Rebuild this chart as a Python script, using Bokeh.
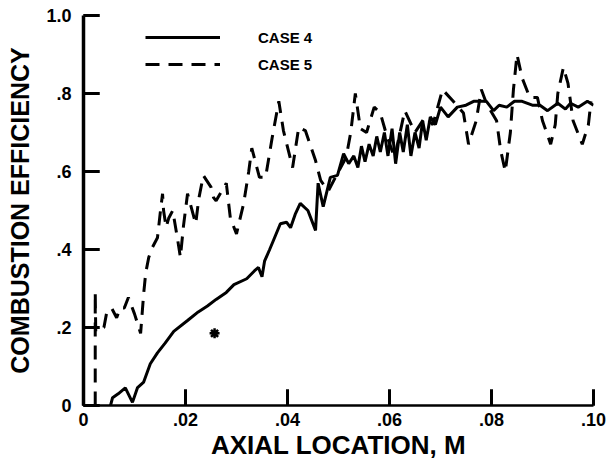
from bokeh.plotting import figure
from bokeh.models import Range1d, FixedTicker, Legend, LegendItem
from bokeh.embed import file_html
from bokeh.resources import INLINE

# ---- data ----
x_ticks = [0.0, 0.02, 0.04, 0.06, 0.08, 0.10]
x_tick_labels = ["0", ".02", ".04", ".06", ".08", ".10"]
y_ticks = [0.0, 0.2, 0.4, 0.6, 0.8, 1.0]
y_tick_labels = ["0", ".2", ".4", ".6", ".8", "1.0"]

series_names = ["CASE 4", "CASE 5"]

case4_x = [0.0027, 0.0047, 0.0057, 0.0068, 0.0082, 0.0096, 0.0106, 0.0118, 0.0131, 0.0145,
           0.0160, 0.0177, 0.0204, 0.0225, 0.0243, 0.0260, 0.0280, 0.0295, 0.0320, 0.0335,
           0.0343, 0.0350, 0.0355, 0.0365, 0.0373, 0.0386, 0.0398, 0.0406, 0.0415, 0.0425,
           0.0440, 0.0455, 0.0460, 0.0470, 0.0484, 0.0498, 0.0510, 0.0520, 0.0530, 0.0538,
           0.0545, 0.0552, 0.0560, 0.0568, 0.0575, 0.0582, 0.0590, 0.0597, 0.0605, 0.0612,
           0.0620, 0.0627, 0.0635, 0.0642, 0.0650, 0.0658, 0.0665, 0.0672, 0.0680, 0.0690,
           0.0700, 0.0715, 0.0733, 0.0750, 0.0765, 0.0780, 0.0790, 0.0804, 0.0815, 0.0830,
           0.0845, 0.0860, 0.0880, 0.0895, 0.0910, 0.0930, 0.0945, 0.0955, 0.0970, 0.0988,
           0.1000]
case4_y = [0.000, -0.030, 0.020, 0.030, 0.045, 0.008, 0.046, 0.060, 0.107, 0.135,
           0.160, 0.190, 0.218, 0.240, 0.255, 0.272, 0.290, 0.310, 0.325, 0.345,
           0.354, 0.330, 0.370, 0.400, 0.425, 0.466, 0.470, 0.456, 0.490, 0.518,
           0.500, 0.449, 0.570, 0.510, 0.585, 0.590, 0.646, 0.620, 0.640, 0.610,
           0.665, 0.625, 0.670, 0.640, 0.690, 0.650, 0.700, 0.640, 0.710, 0.620,
           0.700, 0.650, 0.720, 0.640, 0.700, 0.660, 0.730, 0.680, 0.740, 0.720,
           0.765, 0.740, 0.765, 0.770, 0.780, 0.780, 0.780, 0.756, 0.770, 0.765,
           0.780, 0.780, 0.770, 0.770, 0.756, 0.775, 0.760, 0.775, 0.765, 0.780,
           0.770]

case5_x = [0.0023, 0.0023, 0.0024, 0.0040, 0.0045, 0.0055, 0.0065, 0.0072, 0.0080, 0.0088,
           0.0100, 0.0112, 0.0118, 0.0122, 0.0128, 0.0135, 0.0145, 0.0151, 0.0155, 0.0157,
           0.0162, 0.0167, 0.0175, 0.0184, 0.0190, 0.0196, 0.0204, 0.0220, 0.0226, 0.0235,
           0.0250, 0.0255, 0.0260, 0.0280, 0.0288, 0.0300, 0.0314, 0.0324, 0.0330, 0.0345,
           0.0357, 0.0370, 0.0383, 0.0392, 0.0410, 0.0422, 0.0435, 0.0455, 0.0465, 0.0480,
           0.0500, 0.0515, 0.0524, 0.0533, 0.0543, 0.0555, 0.0570, 0.0582, 0.0595, 0.0610,
           0.0630, 0.0650, 0.0670, 0.0685, 0.0704, 0.0725, 0.0745, 0.0755, 0.0770, 0.0780,
           0.0790, 0.0810, 0.0818, 0.0827, 0.0837, 0.0843, 0.0850, 0.0860, 0.0875, 0.0890,
           0.0900, 0.0916, 0.0925, 0.0930, 0.0941, 0.0950, 0.0960, 0.0978, 0.0990, 0.0995]
case5_y = [0.000, 0.290, 0.190, 0.200, 0.235, 0.250, 0.225, 0.250, 0.250, 0.277,
           0.235, 0.185, 0.287, 0.340, 0.380, 0.405, 0.430, 0.500, 0.543, 0.500,
           0.457, 0.480, 0.500, 0.430, 0.380, 0.460, 0.543, 0.466, 0.530, 0.590,
           0.560, 0.533, 0.525, 0.570, 0.480, 0.440, 0.518, 0.600, 0.660, 0.585,
           0.585, 0.687, 0.780, 0.705, 0.610, 0.713, 0.705, 0.628, 0.577, 0.550,
           0.600, 0.636, 0.700, 0.800, 0.710, 0.700, 0.765, 0.750, 0.690, 0.636,
           0.756, 0.700, 0.740, 0.720, 0.810, 0.780, 0.750, 0.670, 0.730, 0.810,
           0.775, 0.730, 0.654, 0.600, 0.700, 0.810, 0.900, 0.840, 0.790, 0.790,
           0.730, 0.670, 0.720, 0.800, 0.867, 0.826, 0.730, 0.670, 0.720, 0.780]

star_x = [0.0257]
star_y = [0.185]

FONT = "Liberation Sans"
FRAME_W, FRAME_H = 510, 390
TICK_PX = 16

p = figure(width=606, height=462, output_backend="svg", toolbar_location=None,
           x_range=Range1d(0.0, 0.10), y_range=Range1d(0.0, 1.0),
           min_border_left=83, min_border_right=13, min_border_top=15, min_border_bottom=57)
p.outline_line_color = None
p.xgrid.visible = False
p.ygrid.visible = False

# axes with inward ticks
p.xaxis.ticker = FixedTicker(ticks=x_ticks)
p.yaxis.ticker = FixedTicker(ticks=y_ticks)
p.xaxis.major_label_overrides = {t: l for t, l in zip(x_ticks, x_tick_labels)}
p.yaxis.major_label_overrides = {t: l for t, l in zip(y_ticks, y_tick_labels)}
for ax in (p.xaxis, p.yaxis):
    ax.major_tick_in = TICK_PX
    ax.major_tick_out = 0
    ax.major_tick_line_width = 3
    ax.major_tick_line_color = "black"
    ax.major_label_text_font = FONT
    ax.major_label_text_font_style = "bold"
    ax.major_label_text_font_size = "18px"
    ax.major_label_text_color = "black"
    ax.axis_label_text_font = FONT
    ax.axis_label_text_font_style = "bold"
    ax.axis_label_text_color = "black"
p.xaxis.axis_label_text_font_size = "26px"
p.yaxis.axis_label_text_font_size = "25px"
p.yaxis.axis_line_width = 3.5
p.xaxis.axis_line_width = 2.5
p.xaxis.axis_label = "AXIAL LOCATION, M"
p.yaxis.axis_label = "COMBUSTION EFFICIENCY"
p.xaxis.major_label_standoff = 7
p.yaxis.major_label_standoff = 12
p.xaxis.axis_label_standoff = 1
p.yaxis.axis_label_standoff = 9

r4 = p.line(case4_x, case4_y, line_color="black", line_width=3)
r5 = p.line(case5_x, case5_y, line_color="black", line_width=3, line_dash="14 9")
p.scatter(star_x, star_y, marker="asterisk", size=10, line_width=2.5, line_color="black")

# inward tick marks drawn on top, from the tick arrays
dx_tick = TICK_PX * 0.10 / FRAME_W
dy_tick = TICK_PX * 1.0 / FRAME_H
p.segment(x0=[0.0] * len(y_ticks), y0=y_ticks, x1=[dx_tick] * len(y_ticks), y1=y_ticks,
          line_color="black", line_width=3, level="overlay")
p.segment(x0=x_ticks, y0=[0.0] * len(x_ticks), x1=x_ticks, y1=[dy_tick] * len(x_ticks),
          line_color="black", line_width=3, level="overlay")

legend = Legend(items=[LegendItem(label=series_names[0], renderers=[r4]),
                       LegendItem(label=series_names[1], renderers=[r5])],
                location=(62, 331), orientation="vertical")
legend.background_fill_alpha = 0
legend.border_line_color = None
legend.padding = 0
legend.margin = 0
legend.spacing = 7
legend.glyph_width = 75
legend.glyph_height = 20
legend.label_height = 20
legend.label_standoff = 38
legend.label_text_font = FONT
legend.label_text_font_style = "bold"
legend.label_text_font_size = "15px"
legend.label_text_color = "black"
p.add_layout(legend, "center")

open("out.html", "w").write(file_html(p, INLINE))
